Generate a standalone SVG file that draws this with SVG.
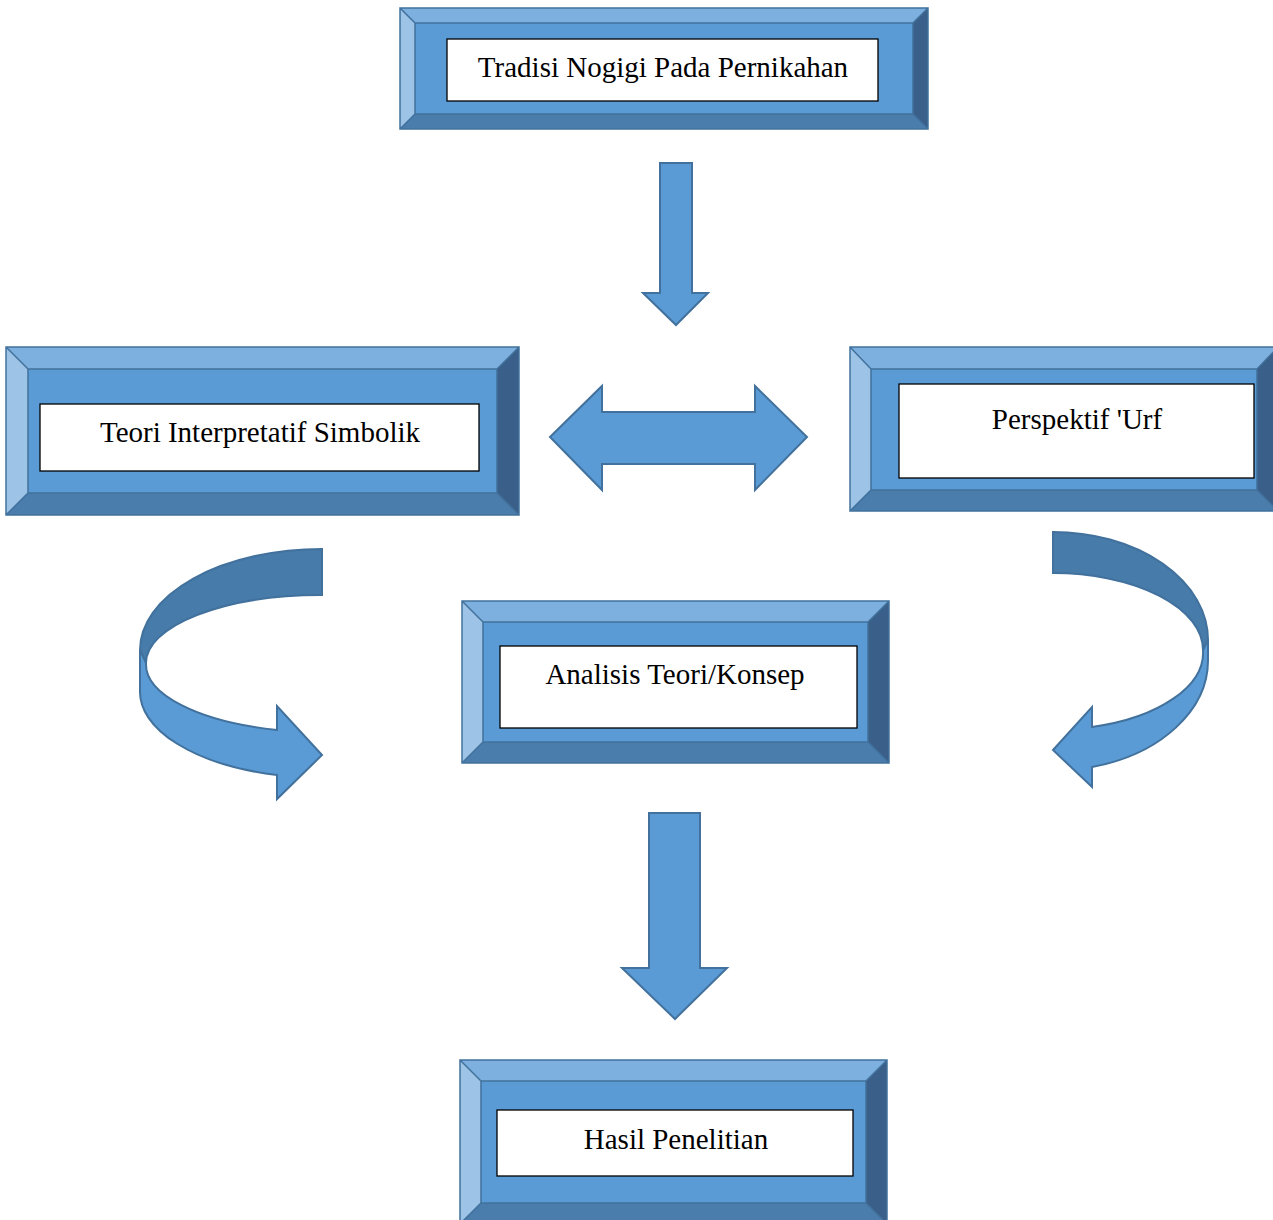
<svg xmlns="http://www.w3.org/2000/svg" width="1273" height="1220" viewBox="0 0 1273 1220">
<style>
.bt{fill:#7DB0DF}
.bl{fill:#9DC3E6}
.br{fill:#3A5F88}
.bb{fill:#4A7CAC}
.face{fill:#5B9BD5}
.edge{fill:none;stroke:#41719C;stroke-width:1.5}
.wb{fill:#FFFFFF;stroke:#000000;stroke-width:1.3}
.lbl{font-family:"Liberation Serif","Times New Roman",serif;font-size:29px;fill:#000000;text-anchor:middle}
.arr{fill:#5B9BD5;stroke:#41719C;stroke-width:2;stroke-linejoin:miter}
.arrd{fill:#477BAA;stroke:#41719C;stroke-width:2;stroke-linejoin:miter}
</style>

<g id="node-tradisi">
<polygon class="bt" points="400,8 928,8 913,23 415,23"/>
<polygon class="bl" points="400,8 415,23 415,114 400,129"/>
<polygon class="br" points="928,8 928,129 913,114 913,23"/>
<polygon class="bb" points="400,129 415,114 913,114 928,129"/>
<rect class="face" x="415" y="23" width="498" height="91"/>
<path class="edge" d="M400,8 H928 V129 H400 Z M415,23 H913 V114 H415 Z M400,8 L415,23 M928,8 L913,23 M400,129 L415,114 M928,129 L913,114"/>
<rect class="wb" x="447" y="39" width="431" height="62"/>
<text class="lbl" x="663" y="77">Tradisi Nogigi Pada Pernikahan</text>
</g>

<g id="node-teori">
<polygon class="bt" points="6,347 519,347 497,369 28,369"/>
<polygon class="bl" points="6,347 28,369 28,493 6,515"/>
<polygon class="br" points="519,347 519,515 497,493 497,369"/>
<polygon class="bb" points="6,515 28,493 497,493 519,515"/>
<rect class="face" x="28" y="369" width="469" height="124"/>
<path class="edge" d="M6,347 H519 V515 H6 Z M28,369 H497 V493 H28 Z M6,347 L28,369 M519,347 L497,369 M6,515 L28,493 M519,515 L497,493"/>
<rect class="wb" x="40" y="404" width="439" height="67"/>
<text class="lbl" x="260" y="442">Teori Interpretatif Simbolik</text>
</g>

<g id="node-urf">
<polygon class="bt" points="850,347 1278,347 1257,369 871,369"/>
<polygon class="bl" points="850,347 871,369 871,490 850,511"/>
<polygon class="br" points="1278,347 1278,511 1257,490 1257,369"/>
<polygon class="bb" points="850,511 871,490 1257,490 1278,511"/>
<rect class="face" x="871" y="369" width="386" height="121"/>
<path class="edge" d="M850,347 H1278 V511 H850 Z M871,369 H1257 V490 H871 Z M850,347 L871,369 M1278,347 L1257,369 M850,511 L871,490 M1278,511 L1257,490"/>
<rect class="wb" x="899" y="384" width="355" height="94"/>
<text class="lbl" x="1077" y="429">Perspektif 'Urf</text>
</g>

<g id="node-analisis">
<polygon class="bt" points="462,601 889,601 868,622 483,622"/>
<polygon class="bl" points="462,601 483,622 483,742 462,763"/>
<polygon class="br" points="889,601 889,763 868,742 868,622"/>
<polygon class="bb" points="462,763 483,742 868,742 889,763"/>
<rect class="face" x="483" y="622" width="385" height="120"/>
<path class="edge" d="M462,601 H889 V763 H462 Z M483,622 H868 V742 H483 Z M462,601 L483,622 M889,601 L868,622 M462,763 L483,742 M889,763 L868,742"/>
<rect class="wb" x="500" y="646" width="357" height="82"/>
<text class="lbl" x="675" y="684">Analisis Teori/Konsep</text>
</g>

<g id="node-hasil">
<polygon class="bt" points="460,1060 887,1060 866,1081 481,1081"/>
<polygon class="bl" points="460,1060 481,1081 481,1203 460,1224"/>
<polygon class="br" points="887,1060 887,1224 866,1203 866,1081"/>
<polygon class="bb" points="460,1224 481,1203 866,1203 887,1224"/>
<rect class="face" x="481" y="1081" width="385" height="122"/>
<path class="edge" d="M460,1060 H887 V1224 H460 Z M481,1081 H866 V1203 H481 Z M460,1060 L481,1081 M887,1060 L866,1081 M460,1224 L481,1203 M887,1224 L866,1203"/>
<rect class="wb" x="497" y="1110" width="356" height="66"/>
<text class="lbl" x="676" y="1149">Hasil Penelitian</text>
</g>

<g id="connectors">
<path class="arr" d="M660,163 H692 V293 H708 L676,325 L643,293 H660 Z"/>
<path class="arr" d="M550,437 L602,386 V412 H755 V386 L807,437 L755,490 V464 H602 V490 Z"/>
<path class="arr" d="M649,813 H700 V968 H727 L675,1019 L622,968 H649 Z"/>
<path class="arrd" d="M322,549 L322,595 A175,68 0 0 0 146,663 L140,650 A182,101 0 0 1 322,549 Z"/>
<path class="arr" d="M146,663 A177,68 0 0 0 277,730 L277,706 L322,755 L277,799 L277,775 A182,86 0 0 1 140,690 L140,650 Z"/>
<path class="arrd" d="M1053,532 L1053,573 A150,77 0 0 1 1203,650 L1208,640 A155,108 0 0 0 1053,532 Z"/>
<path class="arr" d="M1203,650 A150,77 0 0 1 1092,727 L1092,707 L1053,750 L1092,787 L1092,767 A155,110 0 0 0 1208,660 L1208,640 Z"/>
</g>
</svg>
